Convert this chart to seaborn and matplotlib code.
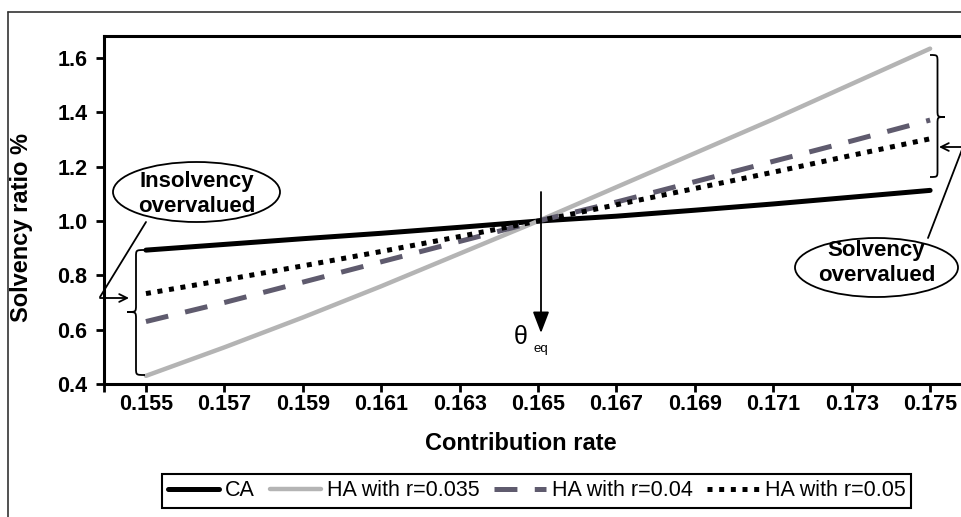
import numpy as np
import pandas as pd
import matplotlib.pyplot as plt
import seaborn as sns
from matplotlib.patches import Ellipse, PathPatch
from matplotlib.path import Path

# Данные
rate = [0.155, 0.157, 0.159, 0.161, 0.163, 0.165, 0.167, 0.169, 0.171, 0.173, 0.175]
tick_labels = ['0.155', '0.157', '0.159', '0.161', '0.163', '0.165',
               '0.167', '0.169', '0.171', '0.173', '0.175']
ca = [0.893, 0.914, 0.935, 0.955, 0.977, 1.0, 1.018, 1.04, 1.063, 1.088, 1.113]
ha_035 = [0.43, 0.535, 0.645, 0.76, 0.88, 1.0, 1.125, 1.25, 1.375, 1.505, 1.635]
ha_04 = [0.63, 0.70, 0.775, 0.85, 0.925, 1.0, 1.07, 1.145, 1.22, 1.295, 1.372]
ha_05 = [0.733, 0.783, 0.835, 0.888, 0.943, 1.0, 1.06, 1.12, 1.18, 1.242, 1.303]
series_names = ['CA', 'HA with r=0.035', 'HA with r=0.04', 'HA with r=0.05']
y_ticks = [0.4, 0.6, 0.8, 1.0, 1.2, 1.4, 1.6]

df = pd.DataFrame({
    'rate': rate * 4,
    'ratio': ca + ha_035 + ha_04 + ha_05,
    'series': np.repeat(series_names, len(rate)),
})

sns.set_theme(style='white')
plt.rcParams['font.family'] = ['Liberation Sans', 'DejaVu Sans']
plt.rcParams['lines.scale_dashes'] = False
plt.rcParams['text.color'] = 'black'

W, H = 961, 517
fig = plt.figure(figsize=(W / 100, H / 100), dpi=100)
ax = fig.add_axes([104 / W, 1 - 384 / H, 861 / W, 348 / H])

palette = {'CA': 'black', 'HA with r=0.035': '#b4b4b4',
           'HA with r=0.04': '#5f5b6e', 'HA with r=0.05': 'black'}
dashes = {'CA': '', 'HA with r=0.035': '',
          'HA with r=0.04': (16.5, 12.5), 'HA with r=0.05': (3.6, 4.8)}
sizes = {'CA': 3.6, 'HA with r=0.035': 3.2, 'HA with r=0.04': 3.6, 'HA with r=0.05': 3.6}

sns.lineplot(data=df, x='rate', y='ratio', hue='series', style='series', size='series',
             palette=palette, dashes=dashes, sizes=sizes,
             hue_order=series_names, style_order=series_names, size_order=series_names,
             errorbar=None, legend=False, ax=ax)

# Оси
ax.set_xlim(0.15393, 0.17589)
ax.set_ylim(0.4, 1.6815)
ax.set_xticks(rate)
ax.set_xticklabels(tick_labels)
ax.set_xticks([0.15393], minor=True)
ax.set_yticks(y_ticks)
ax.set_yticklabels(['%.1f' % v for v in y_ticks])
ax.tick_params(axis='both', which='both', bottom=True, left=True, direction='out',
               length=6, width=2, color='black', labelsize=15.5, labelcolor='black')
ax.tick_params(axis='x', pad=1)
ax.tick_params(axis='y', pad=6)
for lab in ax.get_xticklabels() + ax.get_yticklabels():
    lab.set_fontweight('bold')
for s in ['left', 'bottom', 'top']:
    ax.spines[s].set_linewidth(2.2)
    ax.spines[s].set_color('black')
ax.spines['right'].set_visible(False)

ax.set_xlabel('Contribution rate', fontsize=17, fontweight='bold', color='black')
ax.set_ylabel('Solvency ratio %', fontsize=17, fontweight='bold', color='black')
ax.xaxis.set_label_coords(0.4843, -0.138)
ax.yaxis.set_label_coords(-0.082, 0.45)

# Легенда
handles = ax.get_lines()[:4]
leg = fig.legend(handles, series_names, loc='center', bbox_to_anchor=(536.5 / W, 1 - 491 / H),
                 ncol=4, fontsize=15.5, frameon=True, fancybox=False, edgecolor='black',
                 framealpha=1, handlelength=2.4, handletextpad=0.25, columnspacing=0.7,
                 borderpad=0.28)
leg.get_frame().set_linewidth(1.5)


def fp(px, py):
    return (px, H - py)


def arrow(p_from, p_to, style='-', scale=10, lw=1.3):
    ax.annotate('', xy=fp(*p_to), xytext=fp(*p_from), xycoords='figure pixels',
                textcoords='figure pixels', annotation_clip=False,
                arrowprops=dict(arrowstyle=style, lw=lw, color='black',
                                shrinkA=0, shrinkB=0, mutation_scale=scale))


def brace(x_tip, x_end, y_top, y_bot, y_tip, r=7):
    x_mid = (x_tip + x_end) / 2
    pts = [(x_end, y_top), (x_mid, y_top), (x_mid, y_top), (x_mid, y_top + r),
           (x_mid, y_tip - r),
           (x_mid, y_tip), (x_mid, y_tip), (x_tip, y_tip),
           (x_mid, y_tip), (x_mid, y_tip), (x_mid, y_tip + r),
           (x_mid, y_bot - r),
           (x_mid, y_bot), (x_mid, y_bot), (x_end, y_bot)]
    codes = [Path.MOVETO, Path.CURVE4, Path.CURVE4, Path.CURVE4,
             Path.LINETO,
             Path.CURVE4, Path.CURVE4, Path.CURVE4,
             Path.CURVE4, Path.CURVE4, Path.CURVE4,
             Path.LINETO,
             Path.CURVE4, Path.CURVE4, Path.CURVE4]
    verts = [(x / W, 1 - y / H) for x, y in pts]
    fig.add_artist(PathPatch(Path(verts, codes), transform=fig.transFigure,
                             fill=False, lw=1.3, edgecolor='black'))


def bubble(cx, cy, w, h, text, ty):
    fig.add_artist(Ellipse((cx / W, 1 - cy / H), w / W, h / H, transform=fig.transFigure,
                           facecolor='white', edgecolor='black', lw=1.3))
    fig.text(cx / W, 1 - ty / H, text, ha='center', va='center', fontsize=16,
             fontweight='bold', linespacing=1.2, color='black')


# Левая аннотация
bubble(196.5, 192, 167, 60, 'Insolvency\novervalued', 194)
arrow((146, 222), (100, 297))
arrow((100, 298), (129, 298), style='->', scale=14)
brace(127, 145, 250, 375, 312)

# Правая аннотация
bubble(876.5, 267.5, 163, 59, 'Solvency\novervalued', 263)
arrow((928, 238), (963, 147))
arrow((963, 147), (939, 147), style='->', scale=14)
brace(945, 930, 55, 177, 117)

# θ_eq
arrow((541, 192), (541, 333), style='-|>,head_length=1.3,head_width=0.5', scale=10)
fig.text(521 / W, 1 - 337 / H, 'θ', fontsize=18, ha='center', va='center', color='black')
fig.text(541 / W, 1 - 349 / H, 'eq', fontsize=9.5, ha='center', va='center', color='black')

# Внешняя рамка
fig.add_artist(plt.Line2D([8 / W, 8 / W], [0, 1 - 12 / H], transform=fig.transFigure,
                          color='#333333', lw=1.2))
fig.add_artist(plt.Line2D([8 / W, 1], [1 - 12 / H, 1 - 12 / H], transform=fig.transFigure,
                          color='#333333', lw=1.2))

fig.savefig('out.png', dpi=100)
